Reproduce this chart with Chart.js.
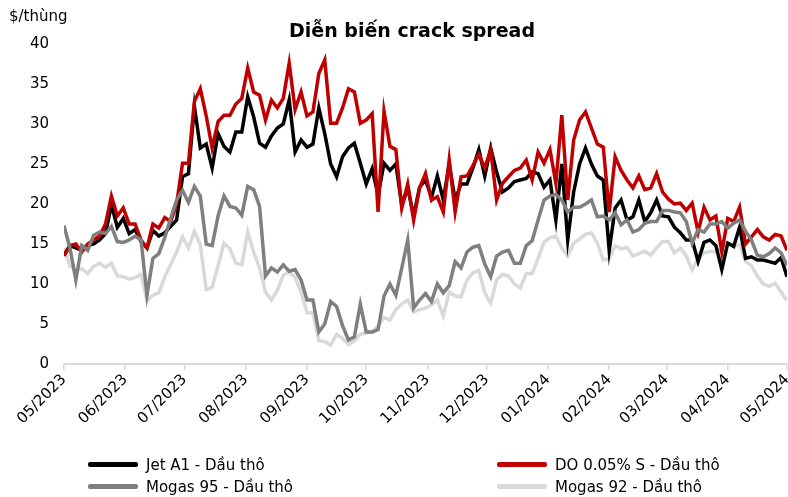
<!DOCTYPE html><html lang="vi"><head>
    <meta charset="utf-8">
    <script src="https://cdn.jsdelivr.net/npm/chart.js@4/dist/chart.umd.min.js"></script>
    <style>
      body { margin: 0; background: #fff; }
      #wrap { position: relative; width: 788px; height: 497px; }
      #legend { position: absolute; left: 0; top: 0; font-family: "DejaVu Sans", sans-serif; font-size: 15px; color: #000; }
      .item { position: absolute; line-height: 22px; white-space: nowrap; }
      .swatch { display: inline-block; width: 50px; height: 5px; border-radius: 2px; vertical-align: middle; margin-right: 8px; margin-top: -2px; }
    </style>
  </head>
  <body>
    <div id="wrap">
      <canvas id="myChart" width="788" height="497"></canvas>
      <div id="legend"></div>
    </div>
    <script>
      const chartTitle = 'Diễn biến crack spread';
      const unitLabel = '$/thùng';

      // days counted from 01/05/2023
      const days = [0,3,6,9,12,15,18,21,24,27,30,33,36,39,42,45,48,51,54,57,
        60,63,66,69,72,75,78,81,84,87,90,93,96,99,102,105,108,111,114,117,
        120,123,126,129,132,135,138,141,144,147,150,153,156,159,162,165,168,171,174,177,
        180,183,186,189,192,195,198,201,204,207,210,213,216,219,222,225,228,231,234,237,
        240,243,246,249,252,255,258,261,264,267,270,273,276,279,282,285,288,291,294,297,
        300,303,306,309,312,315,318,321,324,327,330,333,336,339,342,345,348,351,354,357,
        360,363,366];

      const monthTicks = [0,31,61,92,123,153,184,214,245,276,305,336,366];
      const monthLabels = ['05/2023','06/2023','07/2023','08/2023','09/2023','10/2023','11/2023',
        '12/2023','01/2024','02/2024','03/2024','04/2024','05/2024'];

      const seriesNames = ['Jet A1 - Dầu thô','DO 0.05% S - Dầu thô','Mogas 95 - Dầu thô','Mogas 92 - Dầu thô'];
      const seriesColors = ['#000000','#c00000','#7f7f7f','#d9d9d9'];

      const jetA1 = [
        13.6,14.8,14.5,14.2,14.8,15.0,15.5,16.3,19.9,17.1,
        18.2,16.3,16.8,15.3,14.5,16.7,16.0,16.4,17.2,18.0,
        23.4,23.8,32.2,27.0,27.5,24.5,28.8,27.2,26.5,29.0,
        29.0,33.4,30.9,27.6,27.1,28.5,29.5,30.0,33.0,26.5,
        28.0,27.1,27.5,32.0,28.8,25.0,23.4,25.9,27.0,27.6,
        25.1,22.5,24.4,21.1,25.1,24.2,25.0,19.8,22.0,18.5,
        22.1,23.0,20.8,23.5,20.5,25.0,20.5,22.5,22.5,24.5,
        26.8,23.5,27.0,24.0,21.5,22.0,22.8,23.0,23.2,24.0,
        23.8,22.1,23.0,18.0,25.0,15.5,21.5,25.0,27.0,25.0,
        23.5,23.0,14.2,19.5,20.5,18.0,18.4,20.5,17.8,18.9,
        20.5,18.5,18.4,17.1,16.4,15.5,15.5,12.8,15.2,15.5,
        14.8,11.8,15.1,14.7,17.1,13.2,13.4,13.0,13.0,12.8,
        12.6,13.3,10.9];

      const do005 = [
        13.5,14.8,15.0,14.0,15.0,15.5,16.0,17.5,21.0,18.5,
        19.5,17.5,17.5,15.5,14.5,17.5,17.0,18.3,17.8,20.0,
        25.1,25.1,32.8,34.4,31.0,27.0,30.3,31.1,31.1,32.5,
        33.2,37.0,34.0,33.6,30.5,33.0,32.0,33.2,37.6,31.8,
        34.0,31.0,31.5,36.3,38.0,30.1,30.1,32.0,34.4,34.0,
        30.1,30.5,31.3,19.0,31.6,27.2,26.8,19.5,22.5,18.0,
        22.0,23.8,20.5,20.9,19.0,25.5,19.0,23.4,23.5,24.8,
        26.2,24.5,26.8,20.5,22.6,23.4,24.2,24.5,25.5,23.0,
        26.5,25.1,26.8,22.6,31.1,20.5,28.0,30.5,31.5,29.5,
        27.5,27.1,19.0,25.9,24.2,23.0,22.0,23.5,21.8,22.0,
        23.8,21.5,20.6,20.0,20.1,19.2,20.1,16.5,19.6,18.0,
        18.5,14.0,18.2,17.8,19.6,15.0,15.9,16.8,15.9,15.5,
        16.2,16.0,14.2];

      const mogas95 = [
        17.3,14.5,10.5,14.8,14.2,16.1,16.5,16.3,17.2,15.3,
        15.2,15.5,16.0,15.5,8.6,13.2,13.8,15.8,18.2,20.5,
        21.7,20.2,22.2,21.0,15.0,14.8,18.5,21.0,19.7,19.5,
        18.6,22.2,21.8,19.7,11.0,12.0,11.5,12.4,11.6,11.8,
        10.5,8.0,8.0,4.0,5.0,7.8,7.2,4.8,3.0,3.4,
        7.5,4.0,4.0,4.3,8.5,10.0,8.6,12.0,15.5,7.0,
        8.0,8.8,7.8,10.0,8.9,9.8,12.8,12.0,14.0,14.6,
        14.8,12.5,10.9,13.5,14.0,14.2,12.6,12.6,14.8,15.4,
        18.0,20.5,21.0,21.2,20.5,19.0,19.6,19.6,20.0,20.5,
        18.4,18.5,18.0,18.9,17.4,18.0,16.5,16.8,17.6,17.8,
        17.8,19.2,19.2,19.0,18.9,17.8,15.1,16.8,16.5,17.5,
        17.5,17.8,17.0,17.6,18.0,16.6,15.5,13.6,13.4,13.8,
        14.5,13.9,12.3];

      const mogas92 = [
        14.5,12.2,11.8,11.9,11.3,12.2,12.6,12.1,12.6,11.0,
        10.9,10.6,10.8,11.2,7.9,8.6,8.9,10.9,12.4,14.0,
        15.9,14.5,16.6,14.9,9.3,9.6,12.3,15.1,14.4,12.6,
        12.4,16.5,14.0,12.0,9.0,8.0,9.2,11.1,11.5,10.8,
        9.0,6.4,6.4,2.9,2.8,2.4,3.7,3.2,2.4,2.9,
        3.7,3.9,4.0,4.8,5.8,5.5,6.8,7.5,8.0,6.5,
        6.8,7.0,7.4,8.0,6.0,9.0,8.5,8.4,10.5,11.4,
        11.7,8.9,7.6,10.5,11.2,11.0,10.0,9.5,11.3,11.3,
        13.2,15.2,15.8,16.0,14.5,13.5,15.1,15.6,16.2,16.4,
        15.1,13.0,13.2,14.8,14.4,14.6,13.5,13.8,14.1,13.6,
        14.5,15.3,15.3,13.9,14.5,13.5,11.8,13.2,13.9,14.1,
        14.0,14.4,15.1,14.8,14.9,12.8,12.3,11.0,10.0,9.7,
        10.1,9.0,7.9];

      const seriesValues = [jetA1, do005, mogas95, mogas92];
      const drawOrder = [2, 1, 0, 3]; // lower = on top

      const font = { family: 'DejaVu Sans', size: 15 };

      const textPlugin = {
        id: 'texts',
        afterDraw(chart){
          const ctx = chart.ctx;
          ctx.save();
          ctx.fillStyle = '#000';
          ctx.font = 'bold 19px "DejaVu Sans"';
          ctx.textAlign = 'center';
          ctx.textBaseline = 'middle';
          ctx.fillText(chartTitle, 412, 32);
          ctx.font = '15px "DejaVu Sans"';
          ctx.textAlign = 'left';
          ctx.fillText(unitLabel, 9, 17);
          ctx.restore();
        }
      };

      const ctx = document.getElementById('myChart').getContext('2d');
      const myChart = new Chart(ctx, {
        type: 'line',
        data: {
          datasets: seriesNames.map((name, k) => ({
            label: name,
            data: days.map((d, i) => ({ x: d, y: seriesValues[k][i] })),
            borderColor: seriesColors[k],
            borderWidth: 3.5,
            pointRadius: 0,
            tension: 0,
            fill: false,
            order: drawOrder[k]
          }))
        },
        options: {
          responsive: false,
          animation: false,
          layout: { padding: { top: 44, right: 1, left: 0, bottom: 0 } },
          plugins: {
            legend: { display: false },
            title: { display: false },
            tooltip: { enabled: false }
          },
          scales: {
            x: {
              type: 'linear',
              min: 0,
              max: 366,
              afterBuildTicks: s => { s.ticks = monthTicks.map(v => ({ value: v })); },
              afterFit: s => { s.height = 133; s.paddingRight = 0; },
              ticks: {
                autoSkip: false,
                minRotation: 45,
                maxRotation: 45,
                padding: 1,
                font: font,
                color: '#000',
                callback: (v, i) => monthLabels[i]
              },
              grid: { display: true, drawOnChartArea: false, drawTicks: true, tickLength: 6, color: '#d9d9d9', lineWidth: 1.5 },
              border: { display: true, color: '#d9d9d9', width: 2 }
            },
            y: {
              min: 0,
              max: 40,
              afterFit: s => { s.width = 64; },
              ticks: { stepSize: 5, font: font, color: '#000', padding: 15 },
              grid: { display: false, drawTicks: false },
              border: { display: false }
            }
          }
        },
        plugins: [textPlugin]
      });

      // legend in two columns under the chart
      const legendPos = [[88, 454], [497, 454], [88, 476], [497, 476]];
      const legend = document.getElementById('legend');
      seriesNames.forEach((name, k) => {
        const item = document.createElement('div');
        item.className = 'item';
        item.style.left = legendPos[k][0] + 'px';
        item.style.top = legendPos[k][1] + 'px';
        item.innerHTML = '<span class="swatch" style="background:' + seriesColors[k] + '"></span>' + name;
        legend.appendChild(item);
      });
    </script>
</body></html>
